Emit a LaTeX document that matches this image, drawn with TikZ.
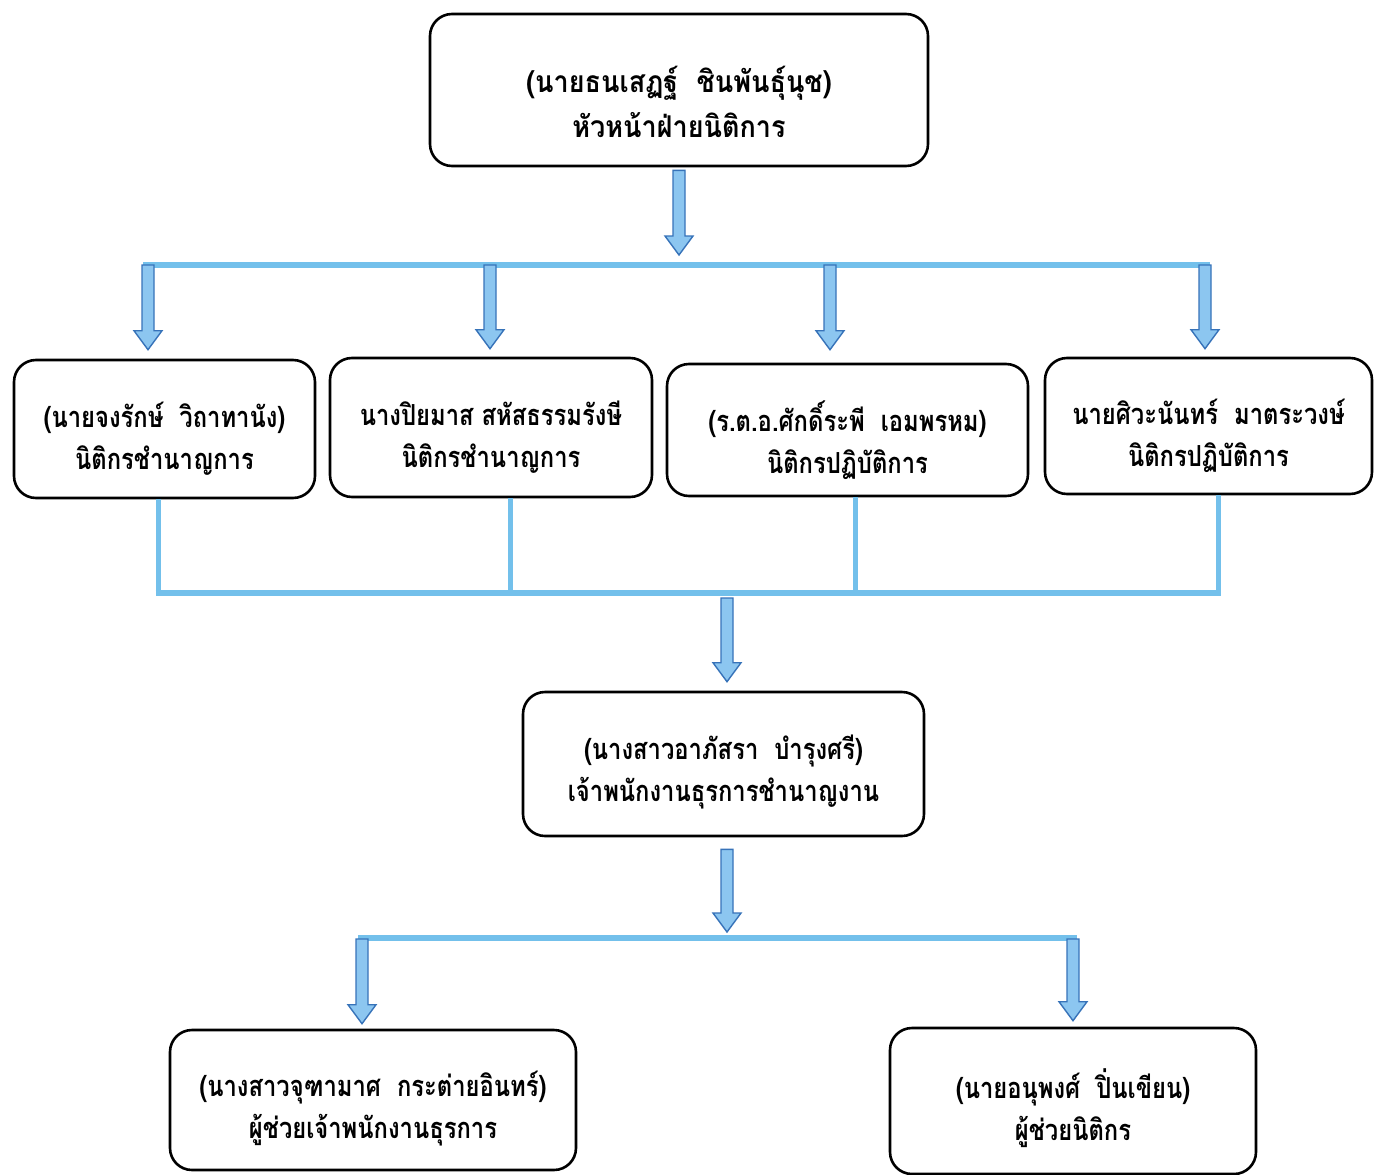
\documentclass[tikz,border=0pt]{standalone}
\usepackage{fontspec}
\newfontfamily\thaifont[Script=Thai, FakeStretch=0.82]{Loma}
\newfontfamily\thaitop[Script=Thai, FakeStretch=0.90]{Loma}
\usetikzlibrary{calc}
\definecolor{linebl}{RGB}{115,192,235}
\definecolor{arrfill}{RGB}{140,198,240}
\definecolor{arredge}{RGB}{55,115,185}
\newcommand{\barr}[2]{%
  \path let \p1=#1, \p2=#2 in
    [fill=arrfill, draw=arredge, line width=1.4pt, line join=miter]
    (\x1-6pt,\y1) -- (\x1-6pt,\y2+19pt) -- (\x1-14pt,\y2+19pt) -- (\x1,\y2)
    -- (\x1+14pt,\y2+19pt) -- (\x1+6pt,\y2+19pt) -- (\x1+6pt,\y1) -- cycle;}
\begin{document}
\begin{tikzpicture}[x=1pt,y=-1pt,
  box/.style={draw=black, line width=2.6pt, rounded corners=22pt, fill=white, inner sep=0pt},
  txt/.style={align=center, inner sep=0pt, font=\thaifont\bfseries\fontsize{29}{42}\selectfont},
  toptxt/.style={align=center, inner sep=0pt, font=\thaitop\bfseries\fontsize{30}{45}\selectfont},
  bus/.style={draw=linebl, line width=6pt},
  stem/.style={draw=linebl, line width=5pt}]
\useasboundingbox (0,0) rectangle (1374,1175);
\fill[white] (0,0) rectangle (1374,1175);
% boxes
\node[box, minimum width=498pt, minimum height=152pt] (top) at (679,90) {};
\node[box, minimum width=301pt, minimum height=138pt] (b1) at (164.5,429) {};
\node[box, minimum width=322pt, minimum height=139pt] (b2) at (491,427.5) {};
\node[box, minimum width=361pt, minimum height=132pt] (b3) at (847.5,430) {};
\node[box, minimum width=327pt, minimum height=136pt] (b4) at (1208.5,426) {};
\node[box, minimum width=401pt, minimum height=144pt] (b5) at (723.5,764) {};
\node[box, minimum width=406pt, minimum height=140pt] (b6) at (373,1100) {};
\node[box, minimum width=366pt, minimum height=146pt] (b7) at (1073,1101) {};
% texts
\node[toptxt] (topt) at ([yshift=-12pt]top.center) {(นายธนเสฏฐ์\ \ ชินพันธุ์นุช)\\หัวหน้าฝ่ายนิติการ};
\node[txt] (b1t) at ([yshift=-10pt]b1.center) {(นายจงรักษ์\ \ วิถาทานัง)\\นิติกรชำนาญการ};
\node[txt] (b2t) at ([yshift=-10pt]b2.center) {นางปิยมาส สหัสธรรมรังษี\\นิติกรชำนาญการ};
\node[txt] (b3t) at ([yshift=-10pt]b3.center) {(ร.ต.อ.ศักดิ์ระพี\ \ เอมพรหม)\\นิติกรปฏิบัติการ};
\node[txt] (b4t) at ([yshift=-10pt]b4.center) {นายศิวะนันทร์\ \ มาตระวงษ์\\นิติกรปฏิบัติการ};
\node[txt] (b5t) at ([yshift=-8pt]b5.center) {(นางสาวอาภัสรา\ \ บำรุงศรี)\\เจ้าพนักงานธุรการชำนาญงาน};
\node[txt] (b6t) at ([yshift=-9pt]b6.center) {(นางสาวจุฑามาศ\ \ กระต่ายอินทร์)\\ผู้ช่วยเจ้าพนักงานธุรการ};
\node[txt] (b7t) at ([yshift=-7pt]b7.center) {(นายอนุพงศ์\ \ ปิ่นเขียน)\\ผู้ช่วยนิติกร};
% junction coordinates
\coordinate (h1L) at (143,265);
\coordinate (h1R) at (1210,265);
\coordinate (j1) at (148,265);
\coordinate (j2) at (490,265);
\coordinate (j3) at (830,265);
\coordinate (j4) at (1205,265);
\coordinate (m0) at (679,255);
\coordinate (s1) at (158,593);
\coordinate (s2) at (510,593);
\coordinate (s3) at (855,593);
\coordinate (s4) at (1218,593);
\coordinate (mid) at (727,597);
\coordinate (m5) at (727,848);
\coordinate (h3L) at (358,938);
\coordinate (h3R) at (1077,938);
\coordinate (k1) at (362,938);
\coordinate (k2) at (1073,938);
% buses
\draw[bus] (h1L) -- (h1R);
\draw[stem] (s1 |- b1.south) -- (s1);
\draw[stem] (s2 |- b2.south) -- (s2);
\draw[stem] (s3 |- b3.south) -- (s3);
\draw[stem] (s4 |- b4.south) -- (s4);
\draw[bus] ([xshift=-2.5pt]s1) -- ([xshift=2.5pt]s4);
\draw[bus] (h3L) -- (h3R);
% block arrows
\barr{([yshift=-3pt]m0 |- top.south)}{(m0)}
\barr{(j1)}{([yshift=9pt]j1 |- b1.north)}
\barr{(j2)}{([yshift=8pt]j2 |- b2.north)}
\barr{(j3)}{([yshift=13pt]j3 |- b3.north)}
\barr{(j4)}{([yshift=8pt]j4 |- b4.north)}
\barr{([yshift=-1pt]mid)}{([yshift=9pt]mid |- b5.north)}
\barr{([yshift=-12pt]m5 |- b5.south)}{([yshift=6pt]m5 |- h3L)}
\barr{([yshift=-1pt]k1)}{([yshift=5pt]k1 |- b6.north)}
\barr{([yshift=-1pt]k2)}{([yshift=6pt]k2 |- b7.north)}
\end{tikzpicture}
\end{document}
